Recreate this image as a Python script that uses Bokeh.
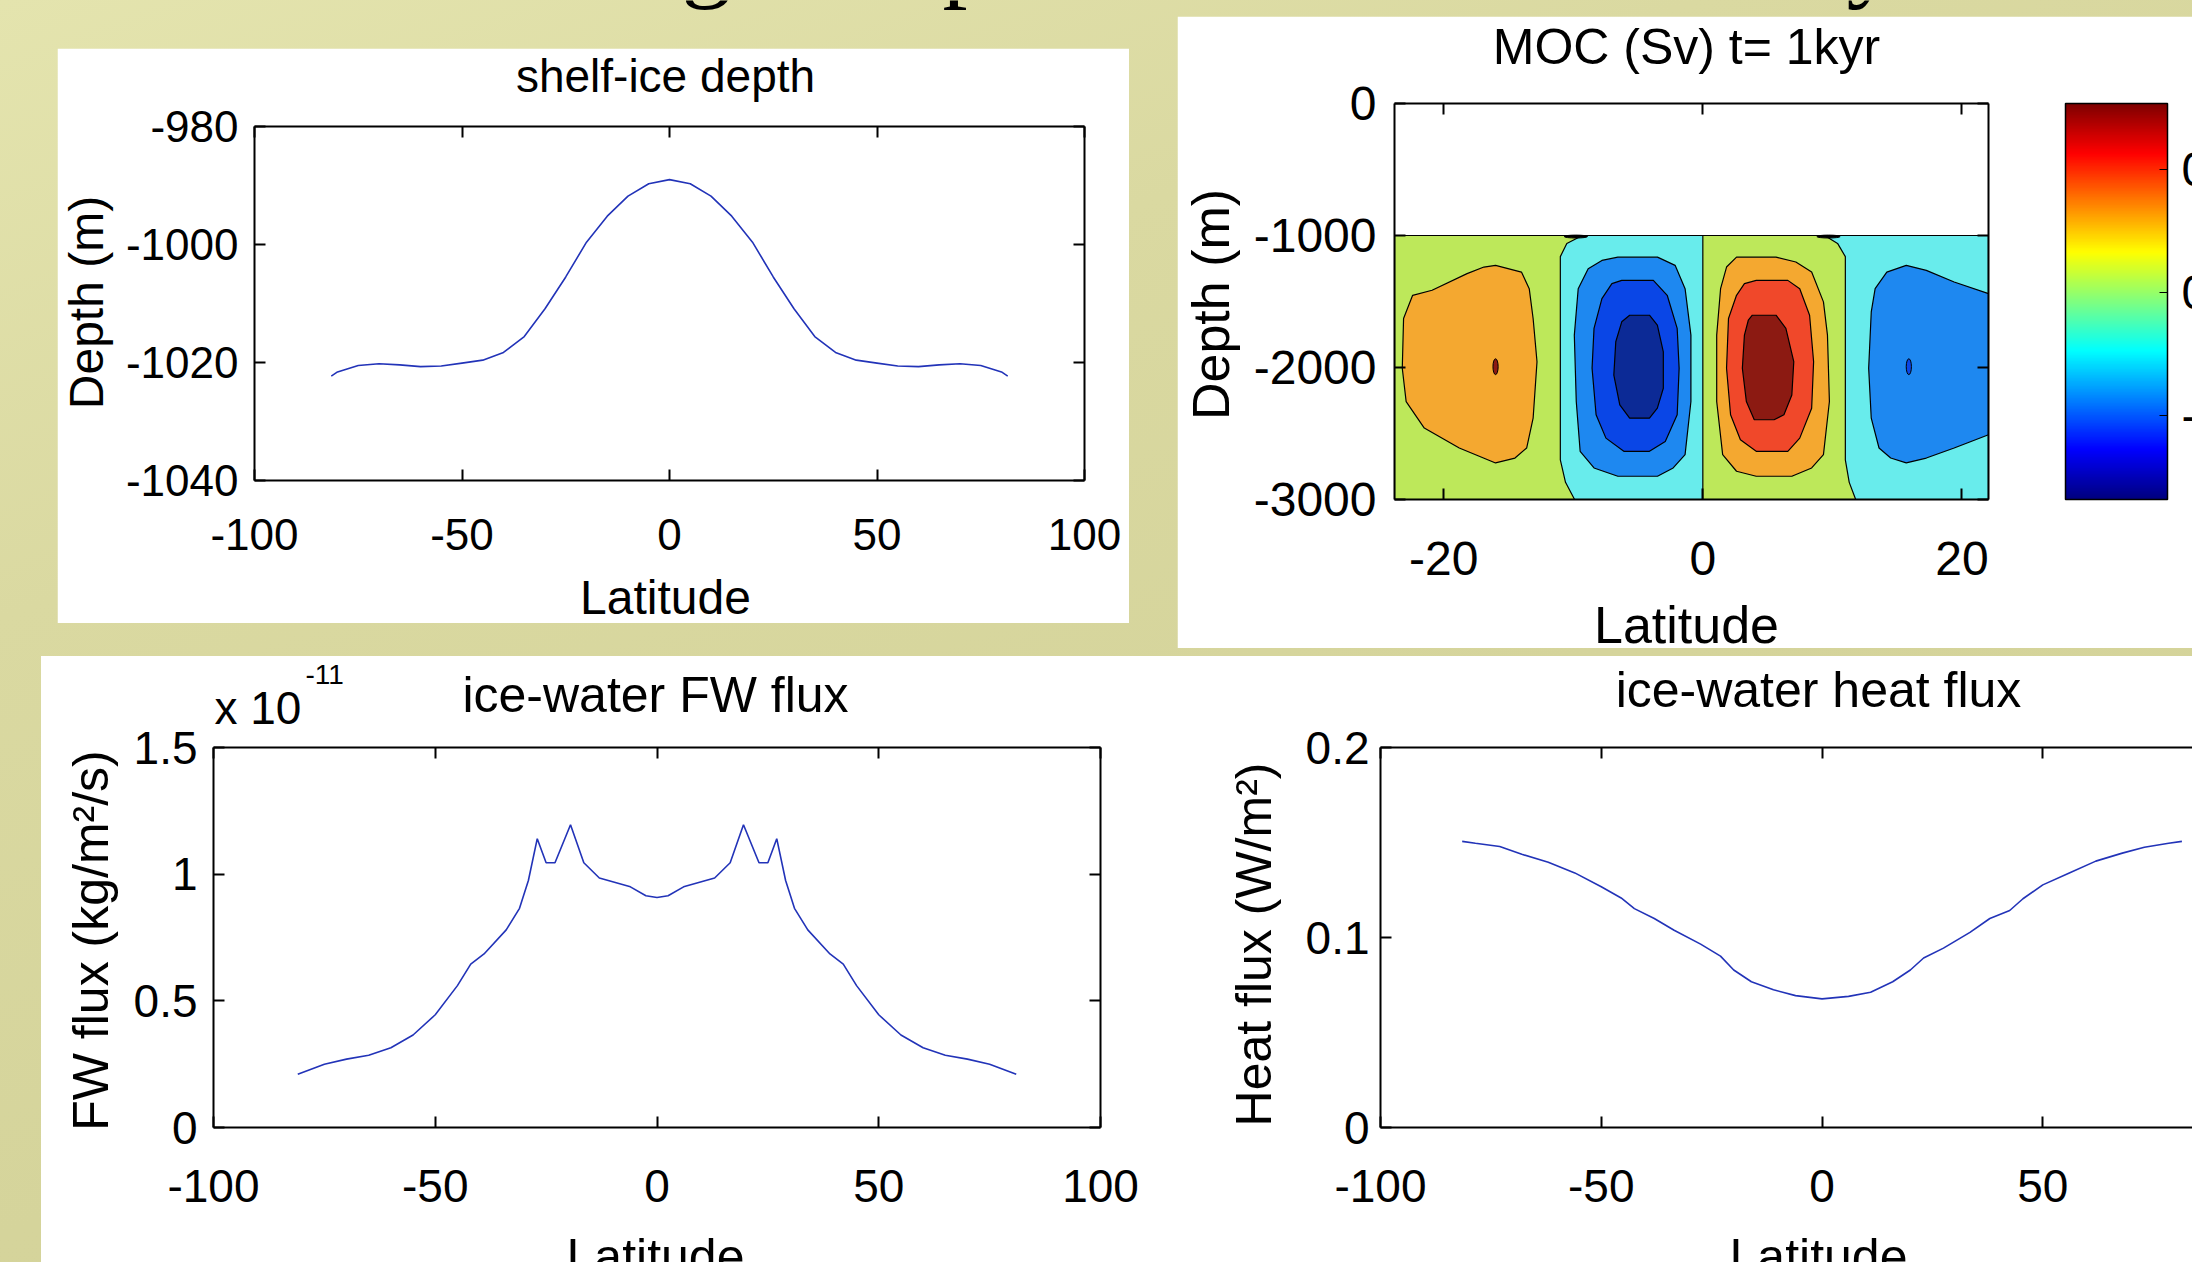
import math
from bokeh.plotting import figure
from bokeh.models import (LinearAxis, FixedTicker, CustomJSTickFormatter, ColorBar,
                          LinearColorMapper, Range1d, GridBox)
from bokeh.layouts import row, column
from bokeh.core.properties import value
from bokeh.embed import file_html
from bokeh.resources import INLINE

FONT = "Liberation Sans"
CURVE = "#2233b8"
PAGE_W, PAGE_H = 2192, 1262

# ---------------- data: shelf-ice depth ----------------
shelf_lat = [-81.5, -80, -75, -70, -65, -60, -55, -50, -45, -40, -35, -30, -25, -20, -15, -10, -5, 0,
             5, 10, 15, 20, 25, 30, 35, 40, 45, 50, 55, 60, 65, 70, 75, 80, 81.5]
shelf_depth = [-1022.3, -1021.6, -1020.5, -1020.2, -1020.4, -1020.7, -1020.6, -1020.1, -1019.6, -1018.3,
               -1015.6, -1010.9, -1005.5, -999.6, -995.2, -991.8, -989.7, -989.0,
               -989.7, -991.8, -995.2, -999.6, -1005.5, -1010.9, -1015.6, -1018.3, -1019.6, -1020.1,
               -1020.6, -1020.7, -1020.4, -1020.2, -1020.5, -1021.6, -1022.3]

# ---------------- data: ice-water FW flux (units of 1e-11 kg/m2/s) ----------------
fw_lat = [-81, -75, -70, -65, -60, -55, -50, -45, -42, -39, -34, -31, -29, -27, -25, -23, -19.5, -16.5,
          -13, -10, -6, -2.5, 0, 2.5, 6, 10, 13, 16.5, 19.5, 23, 25, 27, 29, 31, 34, 39, 42, 45, 50,
          55, 60, 65, 70, 75, 81]
fw_flux = [0.21, 0.25, 0.27, 0.285, 0.315, 0.365, 0.445, 0.56, 0.645, 0.685, 0.78, 0.865, 0.975, 1.14,
           1.045, 1.045, 1.195, 1.045, 0.985, 0.97, 0.95, 0.915, 0.908, 0.915, 0.95, 0.97, 0.985, 1.045,
           1.195, 1.045, 1.045, 1.14, 0.975, 0.865, 0.78, 0.685, 0.645, 0.56, 0.445, 0.365, 0.315, 0.285,
           0.27, 0.25, 0.21]

# ---------------- data: ice-water heat flux (W/m2) ----------------
heat_lat = [-81.5, -78.5, -73, -68, -62, -56, -50, -45.5, -42.5, -38, -33.5, -27.5, -23, -20, -16, -11,
            -6, 0, 6, 11, 16, 20, 23, 27.5, 33.5, 38, 42.5, 45.5, 50, 56, 62, 68, 73, 78.5, 81.5]
heat_flux = [0.1506, 0.1496, 0.1479, 0.1438, 0.1396, 0.134, 0.1267, 0.1208, 0.1152, 0.11, 0.1038,
             0.0965, 0.0902, 0.0829, 0.0767, 0.0725, 0.0694, 0.0677, 0.0690, 0.0712, 0.0767, 0.0829,
             0.0892, 0.0944, 0.1027, 0.110, 0.1142, 0.1204, 0.1277, 0.134, 0.1402, 0.1444, 0.1475,
             0.1496, 0.1506]

# ---------------- data: MOC contour regions (lat, depth) ----------------
moc_ocean_lat = [-23.8, 22.05, 22.05, -23.8]
moc_ocean_depth = [-1000, -1000, -3000, -3000]
cyan_w_lat = [-9.3, 0, 0, -9.9, -10.6, -11.0, -11.0, -10.5]
cyan_w_depth = [-1000, -1000, -3000, -3000, -2870, -2700, -1160, -1060]
cyan_e_lat = [9.4, 22.05, 22.05, 11.8, 11.3, 11.0, 11.0, 10.4]
cyan_e_depth = [-1000, -1000, -3000, -3000, -2870, -2700, -1160, -1060]
orange_w_lat = [-16.0, -14.0, -13.4, -13.1, -12.8, -13.1, -13.6, -14.5, -16.0, -18.8, -21.5, -22.9,
                -23.2, -23.1, -22.4, -20.9, -18.2, -16.9]
orange_w_depth = [-1226, -1277, -1403, -1629, -1956, -2384, -2610, -2686, -2723, -2610, -2459, -2258,
                  -2006, -1629, -1453, -1415, -1289, -1239]
blue1_lat = [-6.56, -3.5, -2.14, -1.37, -0.92, -0.92, -1.37, -2.29, -3.5, -6.56, -8.4, -9.47, -9.77,
             -9.92, -9.62, -8.85, -7.79]
blue1_depth = [-1164, -1164, -1226, -1403, -1755, -2258, -2660, -2761, -2824, -2824, -2761, -2635,
               -2258, -1755, -1403, -1252, -1189]
blue2_lat = [-6.26, -3.82, -2.75, -1.98, -1.83, -1.98, -2.9, -4.12, -6.1, -7.48, -8.24, -8.55, -8.4,
             -7.79, -7.02]
blue2_depth = [-1340, -1340, -1453, -1704, -2006, -2358, -2560, -2635, -2635, -2535, -2358, -2006,
               -1704, -1478, -1365]
blue3_lat = [-5.65, -4.12, -3.51, -3.05, -3.05, -3.51, -4.12, -5.65, -6.41, -6.87, -6.72, -6.26]
blue3_depth = [-1604, -1604, -1679, -1881, -2157, -2308, -2384, -2384, -2283, -2057, -1805, -1654]
red1_lat = [2.6, 5.65, 7.18, 8.4, 9.31, 9.62, 9.77, 9.31, 8.4, 6.87, 4.12, 2.6, 1.53, 1.07, 1.07,
            1.37, 1.83]
red1_depth = [-1164, -1164, -1201, -1277, -1503, -1755, -2258, -2660, -2761, -2824, -2824, -2786,
              -2660, -2258, -1755, -1403, -1239]
red2_lat = [4.12, 6.56, 7.48, 8.24, 8.55, 8.4, 7.48, 6.56, 4.12, 2.9, 2.14, 1.83, 1.98, 2.6, 3.21]
red2_depth = [-1340, -1340, -1403, -1604, -1956, -2308, -2535, -2635, -2635, -2547, -2358, -2006,
              -1629, -1453, -1365]
red3_lat = [3.82, 5.65, 6.41, 7.02, 6.87, 6.26, 5.5, 3.97, 3.36, 3.05, 3.21, 3.51]
red3_depth = [-1604, -1604, -1704, -1956, -2208, -2358, -2396, -2396, -2258, -2006, -1755, -1642]
blue_e_lat = [15.7, 17.25, 19.4, 22.05, 22.05, 19.4, 17.25, 15.7, 14.5, 13.6, 13.0, 12.8, 13.0, 13.3,
              14.2]
blue_e_depth = [-1226, -1264, -1352, -1440, -2509, -2610, -2686, -2723, -2686, -2610, -2384, -2006,
                -1579, -1403, -1277]
moc_dot_lat = [-16.0, 15.9]
moc_dot_depth = [-1994, -1994]
moc_cusp_lat = [-9.8, 9.7]
moc_cusp_depth = [-1008, -1008]
moc_cbar_ticks = [-0.1, 0, 0.1]

# ---------------- colours ----------------
C_YG = "#bde85a"
C_CYAN = "#68ecec"
C_LBLUE = "#1e88f0"
C_BLUE = "#0a46e6"
C_DBLUE = "#0c2a96"
C_ORANGE = "#f4a830"
C_RED = "#f0482a"
C_DRED = "#8c1a12"


def jet(n=256):
    out = []
    for i in range(n):
        t = i / (n - 1)
        r = min(max(1.5 - abs(4 * t - 3), 0), 1)
        g = min(max(1.5 - abs(4 * t - 2), 0), 1)
        b = min(max(1.5 - abs(4 * t - 1), 0), 1)
        out.append("#%02x%02x%02x" % (int(r * 255), int(g * 255), int(b * 255)))
    return out


def num_fmt():
    return CustomJSTickFormatter(code="return String(Math.round(tick*1000)/1000)")


def style_axis(ax, ticks, fs, standoff, labels=True):
    ax.ticker = FixedTicker(ticks=ticks)
    ax.axis_line_color = "black"
    ax.axis_line_width = 2
    ax.major_tick_in = 11
    ax.major_tick_out = 0
    ax.major_tick_line_color = "black"
    ax.major_tick_line_width = 2
    ax.minor_tick_line_color = None
    if labels:
        ax.formatter = num_fmt()
        ax.major_label_text_font = FONT
        ax.major_label_text_font_size = f"{fs}px"
        ax.major_label_text_color = "black"
        ax.major_label_standoff = standoff
    else:
        ax.formatter = CustomJSTickFormatter(code="return ''")
        ax.major_label_text_font_size = "0px"
        ax.major_label_standoff = 0


def make_fig(w, h, xr, yr, bl, br, bt, bb, margin):
    p = figure(width=w, height=h, x_range=Range1d(*xr), y_range=Range1d(*yr),
               output_backend="svg", toolbar_location=None, tools="",
               min_border_left=bl, min_border_right=br, min_border_top=bt, min_border_bottom=bb,
               background_fill_color="white", border_fill_color="white",
               outline_line_color=None, margin=margin, frame_align=False)
    p.title = None
    p.xgrid.visible = False
    p.ygrid.visible = False
    return p


def frame(p, xticks, yticks, fs, xs, ys, right=True):
    style_axis(p.xaxis[0], xticks, fs, xs)
    style_axis(p.yaxis[0], yticks, fs, ys)
    top = LinearAxis()
    style_axis(top, xticks, fs, 0, labels=False)
    p.add_layout(top, "above")
    if right:
        rt = LinearAxis()
        style_axis(rt, yticks, fs, 0, labels=False)
        p.add_layout(rt, "right")


# ---------------- panel 1: shelf-ice depth ----------------
p1 = make_fig(1072, 575, (-100, 100), (-1040, -980), 197, 45, 78, 143, (48, 0, 0, 57))
frame(p1, [-100, -50, 0, 50, 100], [-1040, -1020, -1000, -980], 44, 38, 16)
p1.line(shelf_lat, shelf_depth, line_color=CURVE, line_width=1.6)

# ---------------- panel 2: MOC ----------------
p2 = make_fig(1015, 632, (-23.8, 22.05), (-3000, 0), 217, 204, 87, 149, (16, 0, 0, 48))
frame(p2, [-20, 0, 20], [-3000, -2000, -1000, 0], 48, 42, 18)
for lat, dep, col in [(moc_ocean_lat, moc_ocean_depth, C_YG),
                      (cyan_w_lat, cyan_w_depth, C_CYAN),
                      (cyan_e_lat, cyan_e_depth, C_CYAN),
                      (orange_w_lat, orange_w_depth, C_ORANGE),
                      (blue_e_lat, blue_e_depth, C_LBLUE),
                      (blue1_lat, blue1_depth, C_LBLUE),
                      (blue2_lat, blue2_depth, C_BLUE),
                      (blue3_lat, blue3_depth, C_DBLUE),
                      (red1_lat, red1_depth, C_ORANGE),
                      (red2_lat, red2_depth, C_RED),
                      (red3_lat, red3_depth, C_DRED)]:
    p2.patch(lat, dep, fill_color=col, line_color="black", line_width=1.2)
p2.ellipse(moc_dot_lat, moc_dot_depth, width=0.4, height=120, fill_color=[C_DRED, C_BLUE],
           line_color="black", line_width=1)
p2.ellipse(moc_cusp_lat, moc_cusp_depth, width=1.8, height=22, fill_color="black", line_color="black")
mapper = LinearColorMapper(palette=jet(), low=-0.168, high=0.154)
cb = ColorBar(color_mapper=mapper, orientation="vertical", width=102, height=396,
              location=(671, 0), padding=0, margin=0,
              ticker=FixedTicker(ticks=moc_cbar_ticks), formatter=num_fmt(),
              major_label_text_font=FONT, major_label_text_font_size="48px",
              major_label_text_color="black", label_standoff=14,
              major_tick_line_color="black", major_tick_in=8, major_tick_out=0,
              bar_line_color="black", bar_line_width=1.5,
              background_fill_color=None, border_line_color=None)
p2.add_layout(cb, "center")

# ---------------- panel 3: FW flux ----------------
p3 = make_fig(1149, 606, (-100, 100), (0, 1.5), 172, 90, 91, 135, 0)
frame(p3, [-100, -50, 0, 50, 100], [0, 0.5, 1, 1.5], 46, 42, 16)
p3.line(fw_lat, fw_flux, line_color=CURVE, line_width=1.6)

# ---------------- panel 4: heat flux ----------------
p4 = make_fig(1002, 606, (-100, 83.9), (0, 0.2), 190, 0, 91, 135, 0)
frame(p4, [-100, -50, 0, 50], [0, 0.1, 0.2], 46, 42, 11, right=False)
p4.line(heat_lat, heat_flux, line_color=CURVE, line_width=1.6)

# ---------------- text layer (titles, axis labels, slide heading fragments) ----------------
ov = figure(width=PAGE_W, height=PAGE_H, x_range=Range1d(0, PAGE_W), y_range=Range1d(0, PAGE_H),
            output_backend="svg", toolbar_location=None, tools="", min_border=0,
            x_axis_type=None, y_axis_type=None, background_fill_color=None,
            border_fill_color=None, outline_line_color=None)
ov.title = None


def put(x, y_from_top, s, fs, angle=0.0, align="center", baseline="middle", font=FONT):
    ov.text(x=[x], y=[PAGE_H - y_from_top], text=[s], angle=angle,
            text_font=value(font), text_font_size=value(f"{fs}px"), text_color="black",
            text_align=value(align), text_baseline=value(baseline))


put(665, 75, "shelf-ice depth", 46)
put(665, 597, "Latitude", 48)
put(86, 302, "Depth (m)", 48, angle=math.pi / 2)
put(1686, 46, "MOC (Sv) t= 1kyr", 50)
put(1686, 624, "Latitude", 52)
put(1210, 304, "Depth (m)", 52, angle=math.pi / 2)
put(655, 694, "ice-water FW flux", 50)
put(214, 707, "x 10", 46, align="left")
put(305, 674, "-11", 28, align="left")
put(655, 1256, "Latitude", 50, baseline="alphabetic")
put(90, 940, "FW flux (kg/m\u00b2/s)", 50, angle=math.pi / 2)
put(1818, 689, "ice-water heat flux", 50)
put(1818, 1256, "Latitude", 50, baseline="alphabetic")
put(1253, 944, "Heat flux (W/m\u00b2)", 50, angle=math.pi / 2)
for ch, left in [("g", 681), ("p", 942), ("y", 1846)]:
    put(left, -45, ch, 100, align="left", baseline="alphabetic", font="Liberation Serif")

base = column(row(p1, p2, spacing=0),
              row(p3, p4, spacing=0, margin=(8, 0, 0, 41), styles={"background": "white"}),
              spacing=0,
              styles={"background": "linear-gradient(160deg, #e4e4ae 0%, #dad9a1 30%, "
                                    "#d5d49b 60%, #d3d297 100%)"})
root = GridBox(children=[(base, 0, 0), (ov, 0, 0)])

open("out.html", "w").write(file_html(root, INLINE))
